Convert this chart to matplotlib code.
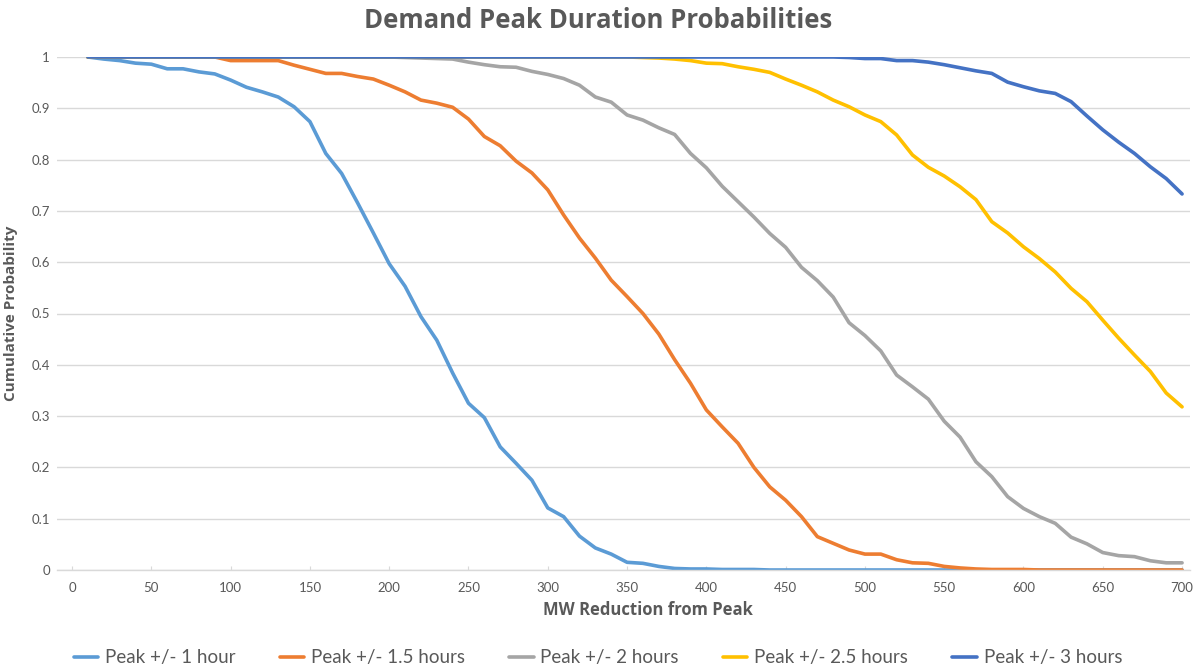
import matplotlib
matplotlib.use("Agg")
import matplotlib.pyplot as plt
import numpy as np

plt.rcParams['font.family'] = ['Lato', 'DejaVu Sans']

mw = list(range(10, 710, 10))

peak_1h = [1.0, 0.996, 0.993, 0.988, 0.986, 0.977, 0.977, 0.971, 0.967, 0.955,
           0.941, 0.932, 0.922, 0.903, 0.874, 0.812, 0.773, 0.716, 0.657, 0.597,
           0.553, 0.494, 0.448, 0.384, 0.325, 0.297, 0.24, 0.208, 0.175, 0.121,
           0.104, 0.066, 0.043, 0.031, 0.015, 0.013, 0.007, 0.003, 0.002, 0.002,
           0.001, 0.001, 0.001, 0.0, 0.0, 0.0, 0.0, 0.0, 0.0, 0.0,
           0.0, 0.0, 0.0, 0.0, 0.0, 0.0, 0.0, 0.0, 0.0, 0.0,
           0.0, 0.0, 0.0, 0.0, 0.0, 0.0, 0.0, 0.0, 0.0, 0.0]

peak_1_5h = [1.0, 1.0, 1.0, 1.0, 1.0, 1.0, 1.0, 1.0, 1.0, 0.993,
             0.993, 0.993, 0.993, 0.984, 0.976, 0.968, 0.968, 0.962, 0.957, 0.945,
             0.932, 0.916, 0.91, 0.902, 0.879, 0.845, 0.827, 0.797, 0.774, 0.741,
             0.692, 0.647, 0.608, 0.565, 0.533, 0.5, 0.46, 0.41, 0.364, 0.312,
             0.279, 0.247, 0.2, 0.162, 0.136, 0.104, 0.065, 0.052, 0.039, 0.031,
             0.031, 0.02, 0.014, 0.013, 0.007, 0.004, 0.002, 0.001, 0.001, 0.001,
             0.0, 0.0, 0.0, 0.0, 0.0, 0.0, 0.0, 0.0, 0.0, 0.0]

peak_2h = [1.0, 1.0, 1.0, 1.0, 1.0, 1.0, 1.0, 1.0, 1.0, 1.0,
           1.0, 1.0, 1.0, 1.0, 1.0, 1.0, 1.0, 1.0, 1.0, 1.0,
           0.999, 0.998, 0.997, 0.996, 0.99, 0.985, 0.981, 0.98, 0.972, 0.966,
           0.958, 0.945, 0.922, 0.912, 0.887, 0.877, 0.862, 0.849, 0.812, 0.784,
           0.748, 0.718, 0.688, 0.656, 0.629, 0.59, 0.564, 0.532, 0.482, 0.457,
           0.427, 0.38, 0.357, 0.333, 0.29, 0.259, 0.211, 0.182, 0.143, 0.12,
           0.104, 0.091, 0.064, 0.051, 0.034, 0.028, 0.026, 0.018, 0.014, 0.014]

peak_2_5h = [1.0, 1.0, 1.0, 1.0, 1.0, 1.0, 1.0, 1.0, 1.0, 1.0,
             1.0, 1.0, 1.0, 1.0, 1.0, 1.0, 1.0, 1.0, 1.0, 1.0,
             1.0, 1.0, 1.0, 1.0, 1.0, 1.0, 1.0, 1.0, 1.0, 1.0,
             1.0, 1.0, 1.0, 1.0, 1.0, 0.999, 0.998, 0.996, 0.993, 0.988,
             0.987, 0.981, 0.976, 0.97, 0.957, 0.945, 0.932, 0.916, 0.903, 0.887,
             0.874, 0.848, 0.809, 0.785, 0.768, 0.747, 0.722, 0.679, 0.657, 0.63,
             0.607, 0.581, 0.549, 0.523, 0.487, 0.452, 0.419, 0.387, 0.345, 0.318]

peak_3h = [1.0, 1.0, 1.0, 1.0, 1.0, 1.0, 1.0, 1.0, 1.0, 1.0,
           1.0, 1.0, 1.0, 1.0, 1.0, 1.0, 1.0, 1.0, 1.0, 1.0,
           1.0, 1.0, 1.0, 1.0, 1.0, 1.0, 1.0, 1.0, 1.0, 1.0,
           1.0, 1.0, 1.0, 1.0, 1.0, 1.0, 1.0, 1.0, 1.0, 1.0,
           1.0, 1.0, 1.0, 1.0, 1.0, 1.0, 1.0, 1.0, 0.999, 0.997,
           0.997, 0.993, 0.993, 0.99, 0.985, 0.979, 0.973, 0.968, 0.951, 0.942,
           0.934, 0.929, 0.913, 0.885, 0.858, 0.834, 0.812, 0.786, 0.763, 0.733]

series = [
    ("Peak +/- 1 hour", peak_1h, "#5B9BD5"),
    ("Peak +/- 1.5 hours", peak_1_5h, "#ED7D31"),
    ("Peak +/- 2 hours", peak_2h, "#A5A5A5"),
    ("Peak +/- 2.5 hours", peak_2_5h, "#FFC000"),
    ("Peak +/- 3 hours", peak_3h, "#4472C4"),
]

x_ticks = list(range(0, 701, 50))
y_ticks = [0, 0.1, 0.2, 0.3, 0.4, 0.5, 0.6, 0.7, 0.8, 0.9, 1.0]
y_labels = ["0", "0.1", "0.2", "0.3", "0.4", "0.5", "0.6", "0.7", "0.8", "0.9", "1"]

fig = plt.figure(figsize=(11.96, 6.69), dpi=100)
ax = fig.add_axes([57/1196, 1 - 570/669, (1190 - 57)/1196, (570 - 57)/669])

for name, vals, col in series:
    ax.plot(mw, vals, color=col, lw=2.6, label=name, solid_joinstyle='round',
            solid_capstyle='round')

ax.set_xlim(-9.5, 705)
ax.set_ylim(0, 1)
ax.set_xticks(x_ticks)
ax.set_yticks(y_ticks)
ax.set_yticklabels(y_labels)

for s in ['top', 'right', 'left']:
    ax.spines[s].set_visible(False)
ax.spines['bottom'].set_color('#D9D9D9')
ax.spines['bottom'].set_linewidth(1.0)
ax.grid(axis='y', color='#D9D9D9', lw=1.0)
ax.set_axisbelow(True)
ax.tick_params(axis='y', length=0, labelsize=9.5, colors='#595959', pad=5)
ax.tick_params(axis='x', length=3, direction='in', color='#D9D9D9',
               labelsize=9.5, labelcolor='#595959', pad=9)

lab_font = dict(family=['Open Sans', 'DejaVu Sans'], fontweight='bold',
                color='#595959')
ax.set_xlabel("MW Reduction from Peak", labelpad=6, fontsize=12, **lab_font)
ax.xaxis.set_label_coords((648 - 57) / 1133, -0.06)
ax.set_ylabel("Cumulative Probability", fontsize=11, **lab_font)
ax.yaxis.set_label_coords(-0.0345, 0.5)

fig.text(0.5, 1 - 20/669, "Demand Peak Duration Probabilities", ha='center', va='center',
         family=['Open Sans', 'DejaVu Sans'], fontsize=18.5, fontweight='bold',
         color='#595959')

leg = fig.legend(loc='center', bbox_to_anchor=(0.5, 1 - 658/669), ncol=5, frameon=False,
                 fontsize=13.5, handlelength=1.3, handletextpad=0.37, columnspacing=2.35)
for t in leg.get_texts():
    t.set_color('#595959')

fig.savefig("out.png", dpi=100)
